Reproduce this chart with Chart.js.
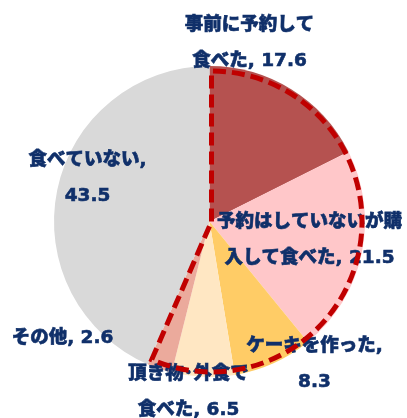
<!DOCTYPE html>
<html>
<head>
<meta charset="utf-8">
<script src="https://cdn.jsdelivr.net/npm/chart.js@4/dist/chart.umd.min.js"></script>
<style>
  body { margin: 0; background: #fff; }
</style>
</head>
<body>
<canvas id="pie" width="407" height="418"></canvas>
<script>
const categories = ["事前に予約して食べた", "予約はしていないが購入して食べた", "ケーキを作った", "頂き物･外食で食べた", "その他", "食べていない"];
const values = [17.6, 21.5, 8.3, 6.5, 2.6, 43.5];
// where each label wraps to a second line (character index, -1 = after the comma)
const lineBreaks = [7, 10, -1, 7, 0, -1];
const colors = ["#B55250", "#FFC7C9", "#FFCC66", "#FFE7C3", "#EBAA9C", "#D9D9D9"];

// label centres, relative to the pie centre
const labelPos = [[40, -196], [100, 1], [105, 125], [-21, 153], [-147, 117], [-122, -61]];
const lineGap = 36;

function labelLines(i) {
  const cat = categories[i];
  const v = values[i].toFixed(1);
  const b = lineBreaks[i];
  if (b === 0) return [cat + ", " + v];
  if (b === -1) return [cat + ",", v];
  return [cat.slice(0, b), cat.slice(b) + ", " + v];
}

const labelPlugin = {
  id: "labels",
  afterDatasetsDraw(chart) {
    const ctx = chart.ctx;
    const arc = chart.getDatasetMeta(0).data[0];
    ctx.save();
    ctx.fillStyle = "#10306A";
    ctx.strokeStyle = "#10306A";
    ctx.lineWidth = 0.6;
    ctx.font = "900 18.5px 'DejaVu Sans', 'Noto Sans CJK JP', sans-serif";
    ctx.textAlign = "center";
    ctx.textBaseline = "middle";
    values.forEach((v, i) => {
      const lines = labelLines(i);
      const x = arc.x + labelPos[i][0];
      const y = arc.y + labelPos[i][1];
      lines.forEach((t, k) => {
        ctx.fillText(t, x, y + k * lineGap);
        ctx.strokeText(t, x, y + k * lineGap);
      });
    });
    ctx.restore();
  }
};

// dashed red outline round the "ate a cake" group (first five slices)
const outlinePlugin = {
  id: "outline",
  afterDraw(chart) {
    const arcs = chart.getDatasetMeta(0).data;
    const first = arcs[0], last = arcs[4];
    const ctx = chart.ctx;
    const cx = first.x + 2, cy = first.y;
    const r = first.outerRadius - 5;
    ctx.save();
    ctx.strokeStyle = "#C00000";
    ctx.lineWidth = 5;
    ctx.setLineDash([13, 6]);
    ctx.beginPath();
    ctx.moveTo(cx, cy);
    ctx.arc(cx, cy, r, first.startAngle, last.endAngle);
    ctx.closePath();
    ctx.stroke();
    ctx.restore();
  }
};

new Chart(document.getElementById("pie"), {
  type: "pie",
  data: {
    labels: categories,
    datasets: [{
      data: values,
      backgroundColor: colors,
      borderWidth: 0
    }]
  },
  options: {
    responsive: false,
    animation: false,
    layout: {
      padding: { top: 66, bottom: 41, left: 54, right: 42 }
    },
    plugins: {
      legend: { display: false },
      tooltip: { enabled: false }
    }
  },
  plugins: [labelPlugin, outlinePlugin]
});
</script>
</body>
</html>
